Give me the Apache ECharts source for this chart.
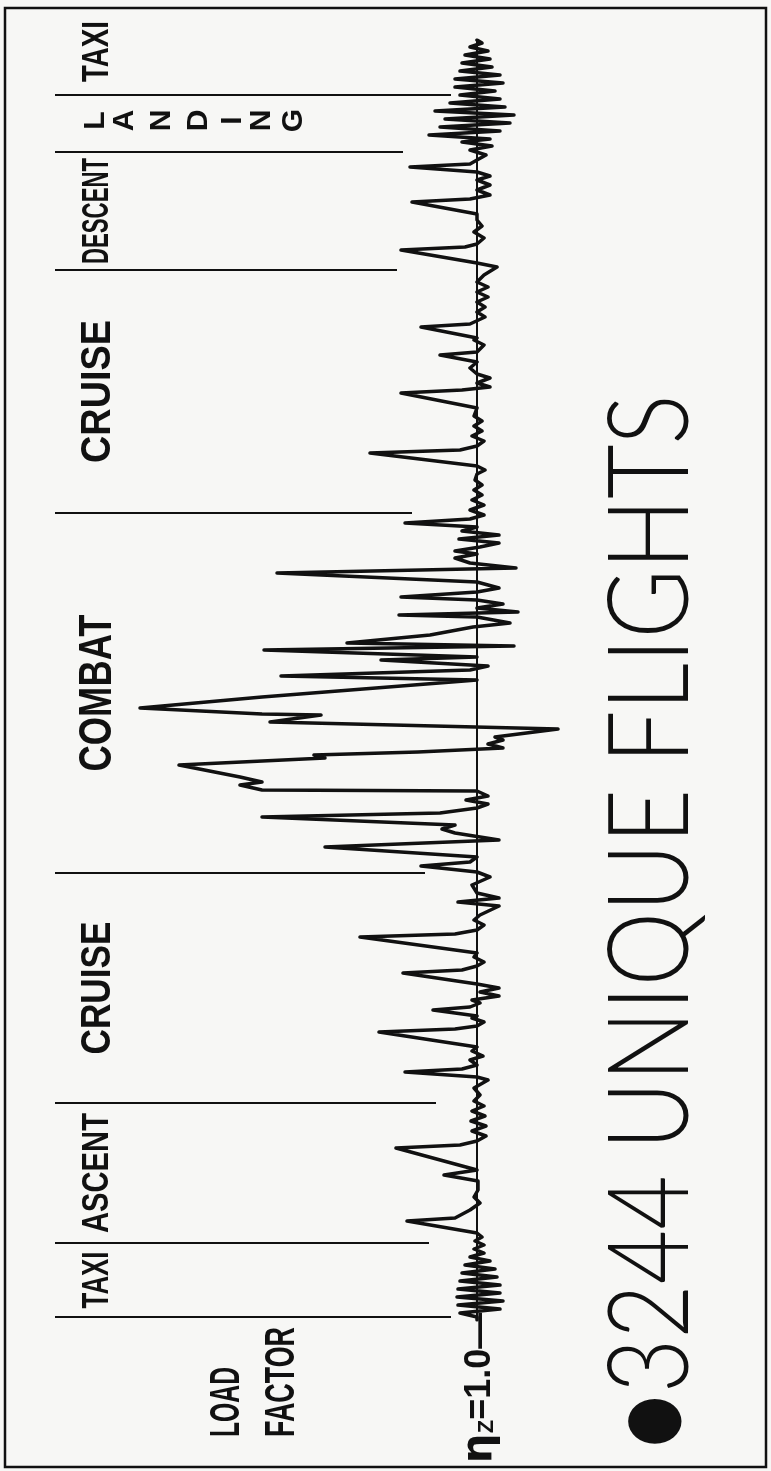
<!DOCTYPE html>
<html>
<head>
<meta charset="utf-8">
<script src="https://cdn.jsdelivr.net/npm/echarts@6/dist/echarts.min.js"></script>
<style>
  html, body { margin: 0; padding: 0; background: #f7f7f5; }
  #chart { width: 771px; height: 1471px; }
</style>
</head>
<body>
<div id="chart"></div>
<script>
// trace: [flight time, load factor nz]
const taxiOut = [[0, 1.0], [3, 1.0], [7, 1.34], [11, 0.54], [15, 1.38], [19, 0.48], [23, 1.40], [27, 0.54], [31, 1.38], [35, 0.54], [39, 1.34], [43, 0.60], [47, 1.30], [51, 0.64], [55, 1.24], [59, 0.74], [63, 1.14], [67, 0.86], [71, 1.06], [75, 0.86], [79, 1.04], [83, 0.90], [87, 1.0]]
const ascent = [[99, 2.40], [102, 1.44], [110, 1.14], [117, 0.94], [123, 1.06], [130, 0.98], [139, 0.98], [145, 1.66], [150, 1.0], [152, 1.0], [172, 2.62], [175, 1.34], [179, 1.0], [184, 0.82], [189, 1.10], [194, 0.82], [199, 1.12], [204, 0.84], [209, 1.10], [214, 0.86]]
const cruiseOut = [[219, 1.06], [225, 0.94], [232, 1.06], [240, 0.78], [243, 1.0], [248, 2.44], [251, 1.30], [255, 1.0], [260, 1.14], [264, 0.88], [269, 1.10], [273, 1.0], [288, 2.96], [291, 1.44], [294, 1.0], [298, 0.86], [302, 1.10], [304, 1.0], [310, 1.88], [313, 1.14], [317, 0.94], [320, 1.10], [324, 0.56], [328, 0.94], [332, 0.56], [336, 1.0], [347, 2.48], [350, 1.30], [354, 1.0], [358, 0.86], [363, 1.06], [367, 1.0], [383, 3.34], [386, 1.44], [390, 1.0], [395, 0.86], [400, 1.06], [405, 0.94], [414, 0.56], [418, 1.38], [422, 0.56], [427, 1.0], [435, 1.10], [443, 0.74], [448, 1.0]]
const combat = [[454, 2.12], [458, 1.14], [463, 1.0], [473, 4.04], [480, 0.56], [487, 1.44], [491, 1.70], [495, 1.44], [503, 5.30], [507, 1.74], [512, 1.0], [516, 0.78], [520, 1.22], [524, 0.78], [529, 1.0], [530, 5.30], [535, 5.74], [538, 5.30], [543, 5.74], [555, 6.96], [562, 4.04], [565, 4.26], [568, 2.18], [572, 0.48], [576, 0.78], [580, 0.48], [583, 0.64], [591, -0.62], [598, 5.14], [605, 4.12], [606, 5.30], [612, 7.74], [623, 5.30], [640, 1.0], [644, 4.92], [650, 1.14], [654, 0.78], [660, 2.92], [663, 1.0], [665, 1.0], [670, 5.26], [674, 0.26], [677, 3.60], [685, 1.94], [693, 1.08], [697, 0.34], [703, 1.0], [705, 2.56], [708, 0.18], [712, 1.0], [716, 0.48], [720, 1.0], [723, 2.52], [728, 1.0], [732, 0.56], [738, 1.0], [747, 5.00], [752, 0.22], [757, 1.14], [762, 1.44], [766, 1.0], [769, 1.44], [773, 0.94], [777, 0.56], [781, 1.36], [785, 0.56], [789, 1.30], [793, 1.0], [797, 2.44], [801, 1.14]]
const cruiseBack = [[805, 0.86], [810, 1.14], [815, 0.86], [820, 1.10], [825, 0.90], [830, 1.06], [835, 0.90], [840, 1.04], [846, 1.0], [850, 0.84], [854, 1.0], [867, 3.14], [870, 1.34], [874, 1.0], [879, 0.86], [884, 1.10], [889, 0.90], [894, 1.06], [899, 0.90], [904, 1.06], [912, 1.0], [927, 2.52], [930, 1.30], [933, 0.74], [937, 1.0], [942, 0.74], [946, 1.0], [952, 1.14], [958, 1.0], [965, 1.74], [968, 1.0], [975, 0.86], [980, 1.06], [982, 1.0], [993, 2.12], [996, 1.14], [1003, 0.84], [1008, 1.0], [1013, 0.84], [1018, 1.0], [1023, 0.78], [1028, 1.0], [1033, 0.78], [1038, 1.0], [1045, 0.86], [1053, 0.60], [1057, 1.0], [1070, 2.52], [1073, 1.24], [1076, 1.0]]
const descent = [[1082, 0.86], [1088, 1.06], [1094, 0.90], [1100, 1.0], [1106, 1.0], [1118, 2.30], [1121, 1.14], [1125, 0.74], [1130, 1.0], [1135, 0.74], [1140, 1.0], [1144, 0.74], [1148, 1.0], [1153, 2.34], [1156, 1.14], [1160, 1.0], [1165, 0.82]]
const landing = [[1170, 1.14], [1174, 0.70], [1178, 1.30], [1181, 0.74], [1185, 1.96], [1189, 0.54], [1193, 1.74], [1197, 0.34], [1201, 1.64], [1205, 0.26], [1209, 1.84], [1213, 0.44], [1217, 1.54], [1221, 0.54], [1225, 1.34]]
const taxiIn = [[1229, 0.64], [1233, 1.44], [1237, 0.48], [1241, 1.44], [1245, 0.54], [1249, 1.34], [1253, 0.70], [1257, 1.30], [1261, 0.74], [1265, 1.24], [1269, 0.78], [1273, 1.14], [1277, 0.90], [1280, 1.0]]

// phase boundaries (flight time) and where each divider stops (nz)
const phaseEdges = [3, 77, 217, 447, 807, 1050, 1168, 1225]
const dividerEnds = [1.52, 1.96, 1.82, 2.04, 2.30, 2.60, 2.48, 1.52]
const phaseNames = ['TAXI', 'ASCENT', 'CRUISE', 'COMBAT', 'CRUISE', 'DESCENT', 'LANDING', 'TAXI']
const topEdge = 1312

const chart = echarts.init(document.getElementById('chart'))
const trace = [].concat(taxiOut, ascent, cruiseOut, combat, cruiseBack, descent, landing, taxiIn)

chart.setOption({
  backgroundColor: '#f7f7f5',
  animation: false,
  grid: { left: 52, right: 94, top: 40, bottom: 151 },
  xAxis: { type: 'value', min: -3, max: 9.5, inverse: true, show: false },
  yAxis: { type: 'value', min: 0, max: 1280, show: false },
  series: [{
    type: 'line',
    data: trace.map(p => [p[1], p[0]]),
    showSymbol: false,
    symbol: 'none',
    lineStyle: { color: '#111', width: 3.5, join: 'round', cap: 'round' },
    markLine: {
      silent: true,
      symbol: 'none',
      label: { show: false },
      lineStyle: { color: '#111', width: 2, type: 'solid' },
      data: [{ xAxis: 1 }].concat(phaseEdges.map((t, i) => [
        { coord: [9.44, t] },
        { coord: [dividerEnds[i], t] }
      ]))
    }
  }]
})

// text helpers
const ctx = document.createElement('canvas').getContext('2d')
function measure(text, weight, size, family) {
  ctx.font = weight + ' ' + size + 'px ' + family
  return ctx.measureText(text).width
}
function upText(text, x, y, size, len, opts) {
  opts = opts || {}
  const weight = opts.weight || 'bold'
  const family = opts.family || '"Liberation Sans"'
  const w = measure(text, weight, size, family)
  return {
    type: 'text',
    x: x,
    y: y,
    rotation: Math.PI / 2,
    scaleX: len ? len / w : 1,
    silent: true,
    z: 10,
    style: {
      text: text,
      fontSize: size,
      fontWeight: weight,
      fontFamily: family,
      fill: '#111',
      align: opts.align || 'center',
      verticalAlign: 'middle'
    }
  }
}
function py(t) {
  return chart.convertToPixel({ gridIndex: 0 }, [1, t])[1]
}

const graphics = []
graphics.push({
  type: 'rect',
  silent: true,
  shape: { x: 5, y: 8, width: 761, height: 1459 },
  style: { fill: 'none', stroke: '#111', lineWidth: 2.5 }
})

// phase labels
const labelLens = [57, 120, 133, 157, 143, 106, 0, 61]
const labelSizes = [36, 37, 42, 46, 42, 37, 30, 36]
const bounds = phaseEdges.concat([topEdge])
phaseNames.forEach((name, i) => {
  const yc = py((bounds[i] + bounds[i + 1]) / 2)
  if (name === 'LANDING') {
    const xs = [96, 125, 162, 199, 233, 262, 294]
    name.split('').forEach((ch, k) => {
      graphics.push(upText(ch, xs[k], yc - 3, labelSizes[i]))
    })
  } else {
    graphics.push(upText(name, 98, yc, labelSizes[i], labelLens[i]))
  }
})

// axis label
graphics.push(upText('LOAD', 227, 1437, 42, 70, { align: 'left' }))
graphics.push(upText('FACTOR', 282, 1437, 42, 110, { align: 'left' }))
graphics.push({
  type: 'text',
  x: 480,
  y: 1388,
  rotation: Math.PI / 2,
  silent: true,
  z: 10,
  style: {
    text: '{e|η}{s|Z}{n|=1.0—}',
    align: 'center',
    verticalAlign: 'middle',
    fill: '#111',
    rich: {
      e: { fontSize: 42, fontFamily: '"DejaVu Sans"', fontWeight: 'bold', fill: '#111' },
      s: { fontSize: 22, fontFamily: '"Liberation Sans"', fontWeight: 'bold', fill: '#111', padding: [14, 0, 0, 0] },
      n: { fontSize: 36, fontFamily: '"Liberation Sans"', fontWeight: 'bold', fill: '#111' }
    }
  }
})

// title
graphics.push(upText('●3244 UNIQUE FLIGHTS', 652, 922, 112, 1055, { weight: 300, family: 'Lato' }))

chart.setOption({ graphic: graphics })
</script>
</body>
</html>
